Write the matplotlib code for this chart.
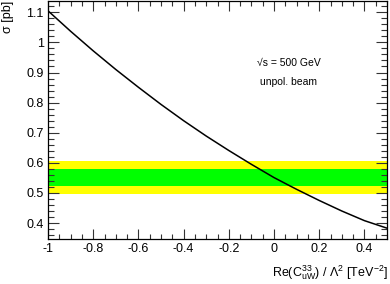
import numpy as np
import matplotlib
matplotlib.use("Agg")
import matplotlib.pyplot as plt
from matplotlib.ticker import MultipleLocator, FuncFormatter

# data
coef = [-1.0, -0.9, -0.8, -0.7, -0.6, -0.5, -0.4, -0.3, -0.2, -0.1,
        0.0, 0.1, 0.2, 0.3, 0.4, 0.5]
sigma = [1.105, 1.037, 0.972, 0.910, 0.851, 0.794, 0.740, 0.689, 0.641,
         0.595, 0.551, 0.512, 0.475, 0.440, 0.408, 0.383]
band_center = 0.550
band_1sigma = 0.028
band_2sigma = 0.055

plt.rcParams['font.family'] = ['Liberation Sans', 'DejaVu Sans']
plt.rcParams['mathtext.fontset'] = 'custom'
plt.rcParams['mathtext.rm'] = 'Liberation Sans'
plt.rcParams['mathtext.it'] = 'Liberation Sans'

fig = plt.figure(figsize=(3.9, 2.84), dpi=100)
ax = fig.add_axes([48/390, 1-239/284, (387-48)/390, (239-1)/284])

ax.axhspan(band_center - band_2sigma, band_center + band_2sigma, color='#ffff00', lw=0)
ax.axhspan(band_center - band_1sigma, band_center + band_1sigma, color='#00ff00', lw=0)
ax.plot(coef, sigma, color='black', lw=1.1)

ax.set_xlim(-1, 0.5)
ax.set_ylim(0.347, 1.1375)

ax.xaxis.set_major_locator(MultipleLocator(0.2))
ax.xaxis.set_minor_locator(MultipleLocator(0.05))
ax.yaxis.set_major_locator(MultipleLocator(0.1))
ax.yaxis.set_minor_locator(MultipleLocator(0.02))

def fmt(v, pos):
    s = f"{v:.1f}"
    if s.endswith(".0"):
        s = s[:-2]
    if s == "-0":
        s = "0"
    return s

ax.xaxis.set_major_formatter(FuncFormatter(fmt))
ax.yaxis.set_major_formatter(FuncFormatter(fmt))

ax.tick_params(which='both', direction='in', top=True, right=True,
               labelsize=9, color='#333333', width=0.8)
ax.tick_params(axis='x', which='major', length=7, pad=3)
ax.tick_params(axis='x', which='minor', length=3.5)
ax.tick_params(axis='y', which='major', length=8, pad=3)
ax.tick_params(axis='y', which='minor', length=4)
for sp in ax.spines.values():
    sp.set_linewidth(0.9)

fig.text(8/390, 1 - 1/284, 'σ [pb]', rotation=90, ha='center', va='top', fontsize=9)
fig.text(388/390, 1 - 276/284, r'Re(C$^{33}_{uW}$) / Λ$^{2}$ [TeV$^{-2}$]',
         ha='right', va='baseline', fontsize=9)

ax.text((257-48)/339, (239-63)/238, '√s = 500 GeV', transform=ax.transAxes,
        fontsize=7.5, ha='left', va='center')
ax.text((260-48)/339, (239-82)/238, 'unpol. beam', transform=ax.transAxes,
        fontsize=7.5, ha='left', va='center')

fig.savefig('out.png', dpi=100)
